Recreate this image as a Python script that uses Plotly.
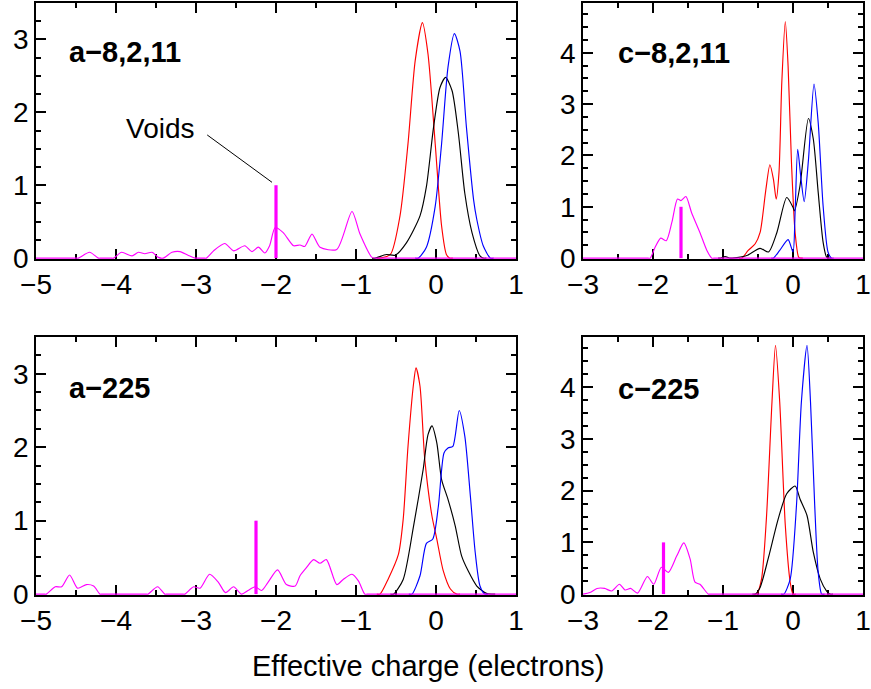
import plotly.graph_objects as go
from plotly.subplots import make_subplots

# ---- a-8,2,11 -------------------------------------------------------------
a82_mag_x = [-5, -4.50, -4.47, -4.33, -4.22, -4.19, -4.06, -4.03, -3.93, -3.80, -3.72,
             -3.64, -3.55, -3.47, -3.41, -3.30, -3.20, -3.10, -3.01, -2.98, -2.90,
             -2.87, -2.78, -2.64, -2.53, -2.39, -2.30, -2.22, -2.14, -2.08, -2.01,
             -1.91, -1.78, -1.70, -1.64, -1.55, -1.45, -1.24, -1.05, -0.95, -0.80,
             -0.74, -0.71, 1]
a82_mag_y = [0, 0, 0, 0.08, 0, 0, 0, 0, 0.08, 0.03, 0.08,
             0.06, 0.08, 0.01, 0, 0.08, 0.09, 0.04, 0, 0, 0,
             0, 0.10, 0.20, 0.10, 0.17, 0.09, 0.15, 0.07, 0.17, 0.42,
             0.35, 0.17, 0.18, 0.16, 0.33, 0.15, 0.12, 0.64, 0.33, 0.01,
             0, 0, 0]
a82_red_x = [-0.74, -0.70, -0.57, -0.45, -0.35, -0.26, -0.17, -0.10, -0.01, 0.07, 0.13, 0.17, 0.21]
a82_red_y = [0, 0, 0.05, 0.58, 1.57, 2.71, 3.23, 2.80, 1.57, 0.44, 0.05, 0, 0]
a82_blk_x = [-0.80, -0.76, -0.62, -0.51, -0.37, -0.20, -0.12, -0.03, 0.05, 0.12, 0.20,
             0.28, 0.36, 0.45, 0.55, 0.59, 0.63]
a82_blk_y = [0, 0, 0.05, 0.04, 0.21, 0.58, 0.98, 1.80, 2.34, 2.48, 2.30,
             1.71, 0.89, 0.35, 0.03, 0, 0]
a82_blu_x = [-0.26, -0.22, -0.12, -0.01, 0.07, 0.15, 0.23, 0.30, 0.38, 0.47, 0.51, 0.59, 0.68, 0.72]
a82_blu_y = [0, 0, 0.15, 0.71, 1.57, 2.62, 3.08, 2.84, 1.80, 0.80, 0.53, 0.17, 0, 0]
a82_void = -2.0

# ---- c-8,2,11 -------------------------------------------------------------
c82_mag_x = [-3, -2.07, -2.04, -1.97, -1.89, -1.81, -1.73, -1.65, -1.60, -1.53, -1.45,
             -1.33, -1.23, -1.16, -1.13, 1]
c82_mag_y = [0, 0, 0, 0.21, 0.39, 0.34, 0.70, 1.15, 1.12, 1.20, 0.89,
             0.50, 0.15, 0, 0, 0]
c82_red_x = [-0.77, -0.73, -0.64, -0.54, -0.47, -0.39, -0.33, -0.28, -0.24, -0.20,
             -0.16, -0.11, -0.07, -0.02, 0.03, 0.08, 0.11, 0.14]
c82_red_y = [0, 0, 0.15, 0.28, 0.50, 1.31, 1.82, 1.54, 1.15, 1.67,
             3.42, 4.61, 3.74, 1.80, 0.50, 0.02, 0, 0]
c82_blk_x = [-1.07, -1.04, -0.97, -0.90, -0.87, -0.80, -0.66, -0.47, -0.35, -0.23,
             -0.09, 0.00, 0.02, 0.10, 0.22, 0.29, 0.36, 0.43, 0.48, 0.52, 0.55]
c82_blk_y = [0, 0, 0.03, 0, 0, 0.01, 0.05, 0.19, 0.12, 0.50,
             1.18, 0.99, 0.92, 1.41, 2.72, 2.32, 1.28, 0.31, 0.02, 0, 0]
c82_blu_x = [-0.31, -0.28, -0.19, -0.07, 0.00, 0.03, 0.067, 0.11, 0.16, 0.22, 0.30,
             0.36, 0.43, 0.50, 0.55, 0.58]
c82_blu_y = [0, 0, 0.15, 0.36, 0.12, 0.90, 2.12, 1.60, 1.10, 1.90, 3.39,
             2.64, 1.02, 0.12, 0, 0]
c82_void = -1.6

# ---- a-225 ----------------------------------------------------------------
a225_mag_x = [-5, -4.90, -4.87, -4.76, -4.68, -4.58, -4.48, -4.37, -4.28, -4.20, -4.17,
              -3.63, -3.60, -3.48, -3.39, -3.36, -3.17, -3.14, -3.03, -2.95, -2.83,
              -2.72, -2.63, -2.53, -2.43, -2.35, -2.26, -2.18, -2.10, -1.98, -1.87,
              -1.76, -1.70, -1.62, -1.53, -1.45, -1.37, -1.24, -1.16, -1.05, -0.97,
              -0.89, -0.86, 1]
a225_mag_y = [0, 0, 0, 0.10, 0.10, 0.26, 0.08, 0.13, 0.11, 0, 0,
              0, 0, 0.10, 0, 0, 0, 0, 0.10, 0.08, 0.27,
              0.16, 0.02, 0.10, 0, 0.05, 0.10, 0.05, 0.16, 0.33, 0.13,
              0.11, 0.25, 0.36, 0.47, 0.42, 0.47, 0.13, 0.20, 0.27, 0.18,
              0, 0, 0]
a225_red_x = [-0.74, -0.70, -0.60, -0.47, -0.41, -0.35, -0.28, -0.25, -0.20, -0.14,
              -0.05, 0.01, 0.09, 0.18, 0.26, 0.30]
a225_red_y = [0, 0, 0.20, 0.54, 1.02, 2.01, 2.87, 3.08, 2.83, 1.83,
              1.06, 0.75, 0.32, 0.07, 0, 0]
a225_blk_x = [-0.57, -0.53, -0.41, -0.28, -0.16, -0.10, -0.05, 0.01, 0.07, 0.15,
              0.24, 0.32, 0.40, 0.51, 0.63, 0.70, 0.74]
a225_blk_y = [0, 0, 0.20, 0.93, 1.70, 2.17, 2.29, 2.06, 1.56, 1.29,
              0.93, 0.52, 0.32, 0.11, 0.01, 0, 0]
a225_blu_x = [-0.34, -0.30, -0.20, -0.12, -0.04, 0.03, 0.10, 0.15, 0.21, 0.29,
              0.36, 0.43, 0.49, 0.55, 0.61, 0.65]
a225_blu_y = [0, 0, 0.25, 0.69, 0.75, 1.20, 1.92, 1.99, 2.01, 2.50,
              2.15, 1.33, 0.57, 0.11, 0, 0]
a225_void = -2.25

# ---- c-225 ----------------------------------------------------------------
c225_mag_x = [-3, -2.90, -2.80, -2.69, -2.59, -2.48, -2.40, -2.32, -2.22, -2.08, -1.99,
              -1.88, -1.78, -1.66, -1.56, -1.47, -1.40, -1.33, -1.21, -1.18, 1]
c225_mag_y = [0, 0.03, 0.11, 0.11, 0.06, 0.19, 0.08, 0.11, 0.02, 0.34, 0.19,
              0.52, 0.42, 0.74, 0.99, 0.68, 0.23, 0.19, 0, 0, 0]
c225_red_x = [-0.56, -0.52, -0.45, -0.38, -0.30, -0.25, -0.19, -0.11, -0.04, 0.00, 0.04]
c225_red_y = [0, 0, 0.29, 1.46, 3.72, 4.81, 3.72, 1.33, 0.23, 0, 0]
c225_blk_x = [-0.58, -0.54, -0.47, -0.35, -0.21, -0.09, 0.03, 0.10, 0.20, 0.29,
              0.39, 0.48, 0.53, 0.57]
c225_blk_y = [0, 0, 0.13, 0.71, 1.46, 1.94, 2.09, 1.84, 1.52, 0.81,
              0.29, 0.06, 0, 0]
c225_blu_x = [-0.17, -0.13, -0.04, 0.05, 0.12, 0.20, 0.25, 0.31, 0.36, 0.41, 0.45]
c225_blu_y = [0, 0, 0.29, 1.72, 3.72, 4.81, 3.72, 1.72, 0.42, 0, 0]
c225_void = -1.85

panel_names = ["a\u22128,2,11", "c\u22128,2,11", "a\u2212225", "c\u2212225"]
x_ranges = [[-5, 1], [-3, 1], [-5, 1], [-3, 1]]
y_ranges = [[-0.012, 3.5], [-0.017, 4.97], [-0.012, 3.5], [-0.017, 4.97]]
axis_title = "Effective charge (electrons)"
void_label = "Voids"

panels = [
    (a82_red_x, a82_red_y, a82_blk_x, a82_blk_y, a82_blu_x, a82_blu_y, a82_mag_x, a82_mag_y, a82_void),
    (c82_red_x, c82_red_y, c82_blk_x, c82_blk_y, c82_blu_x, c82_blu_y, c82_mag_x, c82_mag_y, c82_void),
    (a225_red_x, a225_red_y, a225_blk_x, a225_blk_y, a225_blu_x, a225_blu_y, a225_mag_x, a225_mag_y, a225_void),
    (c225_red_x, c225_red_y, c225_blk_x, c225_blk_y, c225_blu_x, c225_blu_y, c225_mag_x, c225_mag_y, c225_void),
]

W, H = 871, 689
FONT = "Liberation Sans, Arial, Helvetica, sans-serif"
MAGENTA = "#ff00ff"

fig = make_subplots(rows=2, cols=2)

# subplot frames in pixels: (left, right, top, bottom)
frames = [(36, 516, 3, 259), (583, 863, 3, 259), (36, 516, 337, 595), (583, 863, 337, 595)]
cells = [(1, 1), (1, 2), (2, 1), (2, 2)]
label_pos = [(67, 52), (616, 53), (67, 388), (616, 389)]

for i, (data, (r, c)) in enumerate(zip(panels, cells)):
    rx, ry, kx, ky, bx, by, mx, my, vx = data
    for xs, ys, col in [(rx, ry, "#ff0000"), (kx, ky, "#000000"), (bx, by, "#0000ff"), (mx, my, MAGENTA)]:
        fig.add_trace(go.Scatter(x=xs, y=ys, mode="lines",
                                 line=dict(color=col, width=1.15, shape="spline", smoothing=0.7),
                                 hoverinfo="skip", showlegend=False), row=r, col=c)
    fig.add_trace(go.Scatter(x=[vx, vx], y=[0, 1], mode="lines",
                             line=dict(color=MAGENTA, width=3.2),
                             hoverinfo="skip", showlegend=False), row=r, col=c)

for i, (l, rgt, t, b) in enumerate(frames):
    sfx = "" if i == 0 else str(i + 1)
    xd = [l / W, rgt / W]
    yd = [1 - b / H, 1 - t / H]
    common = dict(showline=True, linecolor="black", linewidth=1.6, mirror="allticks",
                  ticks="inside", ticklen=10, tickwidth=1.5, tickcolor="black",
                  showgrid=False, zeroline=False, layer="below traces", automargin=False,
                  tickfont=dict(family=FONT, size=28, color="black"))
    fig.layout["xaxis" + sfx].update(domain=xd, range=x_ranges[i], dtick=1, tick0=0,
                                     minor=dict(ticks="inside", ticklen=5, dtick=0.5,
                                                tickwidth=1.5, tickcolor="black"),
                                     **common)
    fig.layout["yaxis" + sfx].update(domain=yd, range=y_ranges[i], dtick=1, tick0=0,
                                     minor=dict(ticks="inside", ticklen=5, dtick=0.25,
                                                tickwidth=1.5, tickcolor="black"),
                                     **common)
    lx, ly = label_pos[i]
    fig.add_annotation(text="<b>" + panel_names[i] + "</b>",
                       xref="x" + sfx + " domain", yref="y" + sfx + " domain",
                       x=(lx - l) / (rgt - l), y=(b - ly) / (b - t),
                       xanchor="left", yanchor="middle", showarrow=False,
                       font=dict(family=FONT, size=29, color="black"))

# "Voids" callout in the first panel
fig.add_shape(type="line", xref="x", yref="y", x0=-2.86, y0=1.69, x1=a82_void - 0.05, y1=1.04,
              line=dict(color="black", width=1))
fig.add_annotation(text=void_label, xref="x", yref="y", x=-3.44, y=1.78,
                   xanchor="center", yanchor="middle", showarrow=False,
                   font=dict(family=FONT, size=28, color="black"))

fig.add_annotation(text=axis_title, xref="paper", yref="paper", x=428 / W, y=1 - 666 / H,
                   xanchor="center", yanchor="middle", showarrow=False,
                   font=dict(family=FONT, size=29, color="black"))

fig.update_layout(width=W, height=H, margin=dict(l=0, r=0, t=0, b=0),
                  paper_bgcolor="white", plot_bgcolor="white", showlegend=False)

fig.write_html("out.html")
